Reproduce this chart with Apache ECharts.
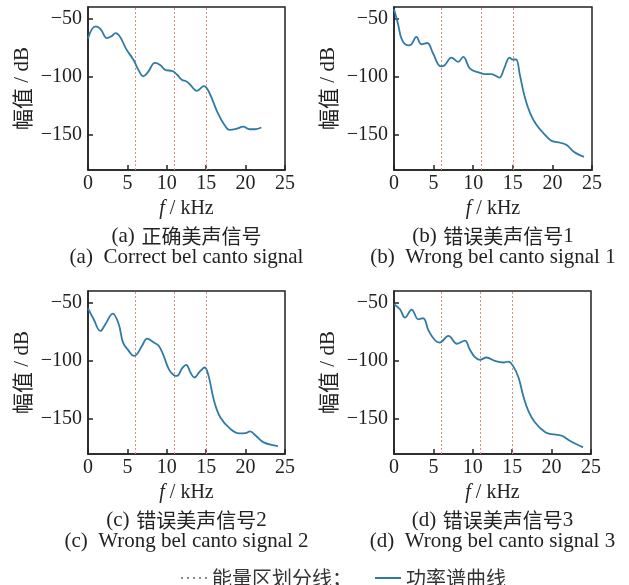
<!DOCTYPE html>
<html>
<head>
<meta charset="utf-8">
<script src="https://cdn.jsdelivr.net/npm/echarts@6/dist/echarts.min.js"></script>
<style>
  html, body { margin: 0; padding: 0; background: #fff; }
  #chart { width: 629px; height: 585px; }
</style>
</head>
<body>
<div id="chart"></div>
<script>
// x ticks / y ticks
const xTicks = [0, 5, 10, 15, 20, 25]
const yTicks = [-50, -100, -150]
// energy partition lines (kHz)
const dividers = [6, 11, 15]

// (a) correct signal
const freqA = [0, 0.5, 1.0, 1.6, 2.4, 3.0, 3.5, 4.1, 4.8, 5.8, 6.4, 7.0, 7.6, 8.5, 9.2, 9.8, 10.7, 11.3, 11.9, 12.5, 13.0, 13.8, 14.7, 15.2, 15.8, 16.4, 17.2, 18.0, 18.9, 19.7, 20.5, 21.2, 22.0]
const ampA = [-67, -59, -56.6, -59, -66.8, -65, -62.5, -66, -75.5, -85.8, -94, -99.5, -96, -88, -90, -94, -95, -98, -102.5, -104, -107, -112, -108, -111, -120, -130, -140, -145.5, -144.5, -142.8, -145, -145, -143.5]

// (b) wrong signal 1
const freqB = [0, 0.5, 1.0, 1.8, 2.2, 2.83, 3.46, 4.2, 4.94, 5.9, 6.4, 7.26, 8.1, 8.74, 9.6, 10.85, 11.5, 12.3, 13.3, 13.9, 14.6, 14.95, 15.4, 15.9, 16.5, 17.2, 18.0, 19.1, 19.9, 21.0, 21.8, 22.7, 23.7, 24.0]
const ampB = [-42, -54.3, -68, -72.9, -72, -65.7, -72, -70.9, -80, -90.9, -90, -83.4, -87.1, -82.9, -92.9, -96.6, -97.7, -97.7, -100.6, -92.9, -83.4, -85.1, -85.1, -98.6, -117, -131.4, -141.4, -150, -155, -156.6, -158.6, -164.3, -168, -168.6]

// (c) wrong signal 2
const freqC = [0, 0.72, 1.57, 2.2, 3.14, 3.9, 4.45, 5.17, 5.8, 6.2, 6.86, 7.5, 8.35, 8.98, 9.6, 10.25, 10.9, 11.3, 11.95, 12.46, 13.0, 13.5, 14.2, 14.8, 15.3, 16.0, 16.8, 18.1, 19.2, 20.0, 20.55, 21.3, 22.3, 23.8, 24.1]
const ampC = [-54.9, -64.3, -74.3, -68.6, -59.4, -68.6, -84.3, -91.4, -95.7, -94.3, -87.1, -80.9, -84.3, -87.1, -95.7, -107.1, -112.3, -112.9, -106.3, -103.4, -110, -114.3, -109.1, -105.7, -112.9, -134.3, -148.6, -158.6, -162.3, -162, -160.6, -164.3, -170, -172.9, -173.2]

// (d) wrong signal 3
const freqD = [0, 0.76, 1.4, 2.24, 3.1, 3.7, 4.4, 5.2, 5.8, 6.9, 8.0, 9.0, 9.6, 10.3, 10.9, 11.75, 12.8, 13.9, 14.5, 15.1, 15.8, 16.4, 17.05, 17.9, 19.2, 20.0, 21.3, 22.3, 23.8, 24.0]
const ampD = [-51.4, -55.7, -62.9, -56, -64.3, -63.4, -74.3, -82.3, -84.3, -78.6, -85.3, -82.6, -90, -97.1, -99.1, -97.1, -100, -101.4, -100.6, -104.3, -114.3, -130, -142.9, -152.9, -161.4, -162.9, -164.3, -168.6, -173.7, -174]

const panels = [
  { freq: freqA, amp: ampA, cn: '正确美声信号', en: 'Correct bel canto signal', tag: '(a)' },
  { freq: freqB, amp: ampB, cn: '错误美声信号1', en: 'Wrong bel canto signal 1', tag: '(b)' },
  { freq: freqC, amp: ampC, cn: '错误美声信号2', en: 'Wrong bel canto signal 2', tag: '(c)' },
  { freq: freqD, amp: ampD, cn: '错误美声信号3', en: 'Wrong bel canto signal 3', tag: '(d)' }
]

const serif = "'Liberation Serif', 'Times New Roman', serif"
const cjk = "'Noto Sans CJK SC', sans-serif"
const ink = '#222'
const curveColor = '#2f7aa6'
const divColor = '#d9907e'

// grid boxes (px)
const boxes = [
  { left: 88, top: 7, width: 197, height: 163 },
  { left: 394, top: 7, width: 198, height: 163 },
  { left: 88, top: 291, width: 197, height: 163 },
  { left: 394, top: 291, width: 197, height: 163 }
]

const minus = v => String(v).replace('-', '\u2212')

const grid = boxes.map(b => ({
  left: b.left, top: b.top, width: b.width, height: b.height,
  show: true, borderColor: ink, borderWidth: 1.5, backgroundColor: 'transparent'
}))

const xAxis = boxes.map((b, i) => ({
  gridIndex: i, type: 'value', min: 0, max: 25, interval: 5,
  name: '{i|f}{n| / kHz}', nameLocation: 'middle', nameGap: 29,
  nameTextStyle: {
    rich: {
      i: { fontFamily: serif, fontStyle: 'italic', fontSize: 20, color: ink },
      n: { fontFamily: serif, fontSize: 20, color: ink }
    }
  },
  axisLine: { lineStyle: { color: ink, width: 1.5 } },
  axisTick: { inside: true, length: 5, lineStyle: { color: ink, width: 1.5 } },
  axisLabel: { fontFamily: serif, fontSize: 20, color: ink, margin: 4 },
  splitLine: { show: false }
}))

const yAxis = boxes.map((b, i) => ({
  gridIndex: i, type: 'value', min: -180, max: -40,
  name: '{c|幅值}{s| / dB}', nameLocation: 'middle', nameGap: 55, nameRotate: 90,
  nameTextStyle: {
    rich: {
      c: { fontFamily: cjk, fontSize: 21, color: ink },
      s: { fontFamily: serif, fontSize: 21, color: ink }
    }
  },
  axisLine: { lineStyle: { color: ink, width: 1.5 } },
  axisTick: { inside: true, length: 5, customValues: yTicks, lineStyle: { color: ink, width: 1.5 } },
  axisLabel: { fontFamily: serif, fontSize: 20, color: ink, margin: 6, customValues: yTicks, formatter: minus },
  splitLine: { show: false }
}))

const series = []
panels.forEach((p, i) => {
  // legend-only entry for the partition lines
  series.push({
    name: '能量区划分线', type: 'line', xAxisIndex: i, yAxisIndex: i,
    data: [], symbol: 'none',
    lineStyle: { color: '#888', type: [2, 4], width: 1.5 },
    itemStyle: { color: '#888' }
  })
  series.push({
    name: '功率谱曲线', type: 'line', xAxisIndex: i, yAxisIndex: i,
    data: p.freq.map((f, k) => [f, p.amp[k]]),
    smooth: 0.4, symbol: 'none', z: 3,
    lineStyle: { color: curveColor, width: 1.8 },
    itemStyle: { color: curveColor },
    markLine: {
      silent: true, symbol: 'none', label: { show: false },
      emphasis: { disabled: true }, z: 1,
      lineStyle: { color: divColor, type: [2, 2], width: 1 },
      data: dividers.map(d => ({ xAxis: d }))
    }
  })
})

const captions = []
panels.forEach((p, i) => {
  const b = boxes[i]
  const cx = b.left + b.width / 2
  const y1 = b.top + b.height + 66
  captions.push({
    type: 'text', x: cx, y: y1,
    style: {
      text: '{s|' + p.tag + '}  {c|' + p.cn.replace(/\d$/, '') + '}' + (/\d$/.test(p.cn) ? '{s|' + p.cn.slice(-1) + '}' : ''),
      align: 'center', verticalAlign: 'middle',
      rich: {
        s: { fontFamily: serif, fontSize: 21, fill: ink },
        c: { fontFamily: cjk, fontSize: 20, fill: ink }
      }
    }
  })
  captions.push({
    type: 'text', x: cx, y: y1 + 21,
    style: {
      text: p.tag + '  ' + p.en,
      align: 'center', verticalAlign: 'middle',
      font: '21px ' + serif, fill: ink
    }
  })
})

const chart = echarts.init(document.getElementById('chart'))
chart.setOption({
  backgroundColor: '#fff',
  animation: false,
  grid, xAxis, yAxis, series,
  legend: {
    data: ['能量区划分线', '功率谱曲线'],
    left: 175, top: 563,
    itemWidth: 26, itemHeight: 10, itemGap: 22,
    itemStyle: { color: 'transparent', borderWidth: 0, opacity: 0 },
    formatter: n => n === '能量区划分线' ? n + '；' : n,
    textStyle: { fontFamily: cjk, fontSize: 20, color: '#333' }
  },
  graphic: captions
})
</script>
</body>
</html>
